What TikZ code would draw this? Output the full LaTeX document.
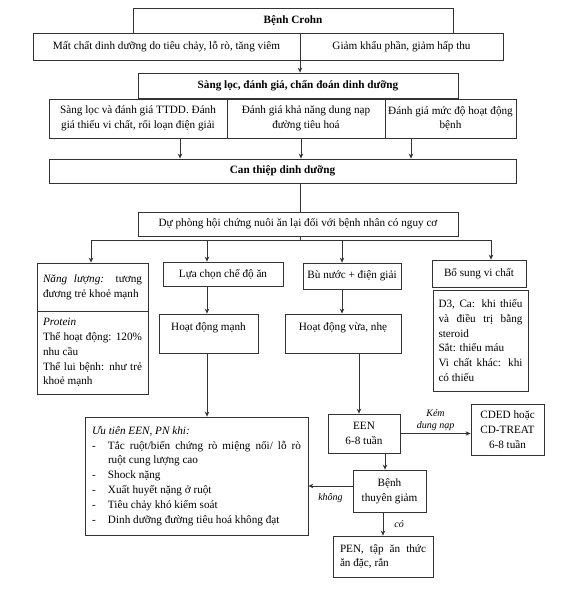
\documentclass[tikz,border=0pt]{standalone}
\usepackage{fontspec}
\setmainfont{Liberation Serif}
\usepackage{tikz}
\usetikzlibrary{arrows.meta}
\tikzset{
    flow-box/.style = {draw=black!80, line width=0.8pt, rectangle, inner xsep=3pt, inner ysep=1pt, align=center, font=\fontsize{11.2}{14.8}\selectfont},
    flow-title/.style = {flow-box, font=\fontsize{11.2}{14.8}\selectfont\bfseries},
    flow-text/.style = {flow-box, align=justify},
    flow-top/.style = {flow-box, text height=12pt, text depth=18pt},
    flow-line/.style = {draw=black!80, line width=0.8pt},
    flow-arrow/.style = {flow-line, -{Stealth[length=5pt, width=4.5pt]}},
    flow-label/.style = {font=\fontsize{10}{12}\selectfont\itshape, align=center, inner sep=1pt},
}

\begin{document}
\begin{tikzpicture}[x=1pt, y=-1pt]
\useasboundingbox (0,0) rectangle (575,594);
\coordinate (spine) at (300,0);
\coordinate (fork) at (300,240);
\coordinate (d1) at (91,240);
\coordinate (d2) at (207,240);
\coordinate (d3) at (342,240);
\coordinate (d4) at (491,240);
\node[flow-title, minimum width=320pt, minimum height=25pt] (crohn) at (293,20.5) {Bệnh Crohn};
\node[flow-box, minimum width=267pt, minimum height=27pt] (loss) at (166.5,46.5) {Mất chất dinh dưỡng do tiêu chảy, lỗ rò, tăng viêm};
\node[flow-box, minimum width=203pt, minimum height=27pt] (intake) at (401.5,46.5) {Giảm khẩu phần, giảm hấp thu};
\node[flow-title, minimum width=320pt, minimum height=25pt] (screen) at (298,85.5) {Sàng lọc, đánh giá, chẩn đoán dinh dưỡng};
\node[flow-box, minimum width=178pt, minimum height=39pt] (assess-a) at (138,118.5) {Sàng lọc và đánh giá TTDD. Đánh\\giá thiếu vi chất, rối loạn điện giải};
\node[flow-box, minimum width=158pt, minimum height=39pt] (assess-b) at (306,118.5) {Đánh giá khả năng dung nạp\\đường tiêu hoá};
\node[flow-box, minimum width=131pt, minimum height=39pt, inner xsep=0pt] (assess-c) at (450.5,118.5) {Đánh giá mức độ hoạt động\\bệnh};
\node[flow-title, minimum width=467pt, minimum height=24pt] (intervene) at (282.5,171) {Can thiệp dinh dưỡng};
\node[flow-box, minimum width=320pt, minimum height=24pt] (prevent) at (298,224) {Dự phòng hội chứng nuôi ăn lại đối với bệnh nhân có nguy cơ};
\node[flow-text, text width=99pt, inner xsep=6pt, minimum height=48pt] (energy) at (92.5,287) {\textit{Năng lượng:} tương\linebreak đương trẻ khoẻ mạnh};
\node[flow-text, text width=99pt, inner xsep=6pt, minimum height=83pt] (protein) at (92.5,352.5) {\textit{Protein}\\Thể hoạt động: 120\%\linebreak nhu cầu\\Thể lui bệnh: như trẻ\linebreak khoẻ mạnh};
\node[flow-box, minimum width=120pt, minimum height=24pt] (diet) at (223,274) {Lựa chọn chế độ ăn};
\node[flow-box, minimum width=98pt, minimum height=26pt, inner xsep=1pt] (fluid) at (352,276) {Bù nước + điện giải};
\node[flow-box, minimum width=94pt, minimum height=27pt] (micro) at (479,273.5) {Bổ sung vi chất};
\node[flow-text, text width=84pt, inner xsep=5.5pt, minimum height=101pt] (micro-detail) at (480.5,340.5) {D3, Ca: khi thiếu\linebreak và điều trị bằng\linebreak steroid\\Sắt: thiếu máu\\Vi chất khác: khi\linebreak có thiếu};
\node[flow-top, minimum width=99pt, minimum height=39pt] (high) at (208.5,333.5) {Hoạt động mạnh};
\node[flow-top, minimum width=116pt, minimum height=39pt] (moderate) at (343,333.5) {Hoạt động vừa, nhẹ};
\node[flow-text, text width=209pt, inner xsep=7pt, minimum height=118pt] (priority) at (196.5,476) {\textit{Ưu tiên EEN, PN khi:}\par
\hangindent=16pt\hangafter=1\makebox[16pt][l]{-}Tắc ruột/biến chứng rò miệng nối/ lỗ rò\linebreak ruột cung lượng cao\par
\makebox[16pt][l]{-}Shock nặng\par
\makebox[16pt][l]{-}Xuất huyết nặng ở ruột\par
\makebox[16pt][l]{-}Tiêu chảy khó kiểm soát\par
\makebox[16pt][l]{-}Dinh dưỡng đường tiêu hoá không đạt};
\node[flow-box, minimum width=72pt, minimum height=39pt] (een) at (364,433.5) {EEN\\6-8 tuần};
\node[flow-box, minimum width=73pt, minimum height=51pt] (cded) at (507.5,429.5) {CDED hoặc\\CD-TREAT\\6-8 tuần};
\node[flow-box, minimum width=73pt, minimum height=42pt] (remit) at (389.5,491) {Bệnh\\thuyên giảm};
\node[flow-text, text width=86pt, inner xsep=7pt, minimum height=41pt] (pen) at (383,556.5) {PEN, tập ăn thức\linebreak ăn đặc, rắn};
\draw[flow-arrow] (crohn.south -| spine) -- (screen.north -| spine);
\draw[flow-arrow] ([xshift=42pt]assess-a.south) -- ([xshift=42pt]assess-a.south |- intervene.north);
\draw[flow-arrow] ([xshift=-5pt]assess-b.south) -- ([xshift=-5pt]assess-b.south |- intervene.north);
\draw[flow-arrow] ([xshift=-39.5pt]assess-c.south) -- ([xshift=-39.5pt]assess-c.south |- intervene.north);
\draw[flow-line] (intervene.south -| spine) -- (prevent.north -| spine);
\draw[flow-line] (prevent.south -| fork) -- (fork);
\draw[flow-line] (d1) -- (d4);
\draw[flow-arrow] (d1) -- (d1 |- energy.north);
\draw[flow-arrow] (d2) -- (d2 |- diet.north);
\draw[flow-arrow] (d3) -- (d3 |- fluid.north);
\draw[flow-arrow] (d4) -- (d4 |- micro.north);
\draw[flow-arrow] (d2 |- diet.south) -- (d2 |- high.north);
\draw[flow-arrow] (d3 |- fluid.south) -- (d3 |- moderate.north);
\draw[flow-arrow] (d2 |- high.south) -- (d2 |- priority.north);
\draw[flow-arrow] ([xshift=-5pt]een.north |- moderate.south) -- ([xshift=-5pt]een.north);
\draw[flow-arrow] (een.east) -- node[flow-label, above=1pt] {Kém\\dung nạp} (een.east -| cded.west);
\draw[flow-arrow] ([xshift=-4.5pt]remit.north |- een.south) -- ([xshift=-4.5pt]remit.north);
\draw[flow-arrow] ([yshift=5pt]remit.west) -- node[flow-label, below=6pt] {không} ([yshift=5pt]remit.west -| priority.east);
\draw[flow-arrow] ([xshift=-6.5pt]remit.south) -- node[flow-label, right=10pt] {có} ([xshift=-6.5pt]remit.south |- pen.north);
\end{tikzpicture}
\end{document}
